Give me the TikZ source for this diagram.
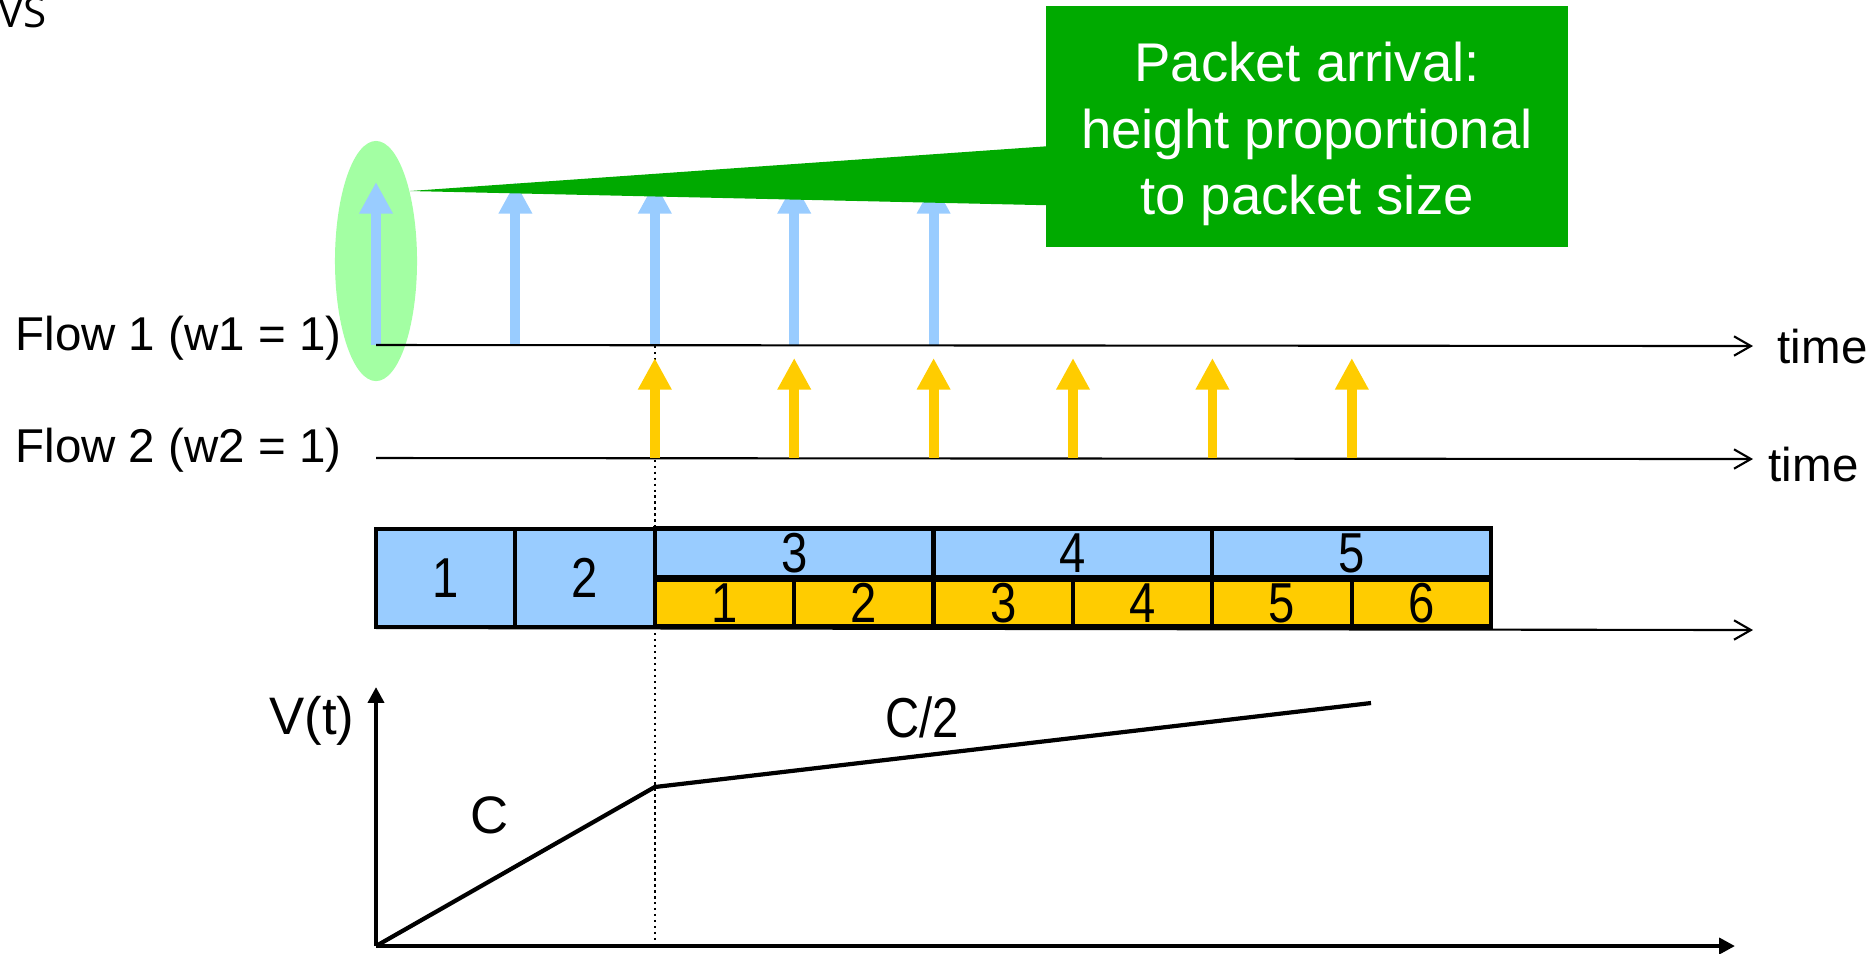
\documentclass[tikz,border=0pt]{standalone}
\usepackage{fontspec}
\setmainfont{Liberation Sans}
\newfontfamily\slidefont{Open Sans}
\newfontfamily\narrowfont[FakeStretch=0.84]{Liberation Sans}
\usepackage{tikz}
\usetikzlibrary{arrows.meta,calc,shapes.geometric}
\definecolor{pktblue}{RGB}{153,204,255}
\definecolor{pktyellow}{RGB}{255,204,0}
\definecolor{notegreen}{RGB}{0,170,0}
\definecolor{halogreen}{RGB}{163,255,163}
\tikzset{
  arrive1/.style={pktblue, line width=2.8pt, -{Triangle[width=9pt,length=9pt]}},
  arrive2/.style={pktyellow, line width=2.8pt, -{Triangle[width=9pt,length=9pt]}},
  timeline/.style={line width=0.6pt, -{Straight Barb[length=4.8pt,width=5.5pt]}},
  slotbox/.style={draw, line width=1.2pt, inner sep=0pt, font=\narrowfont\fontsize{16}{18}\selectfont},
  labtext/.style={inner sep=0pt, font=\fontsize{13.5}{16}\selectfont},
  bigtext/.style={inner sep=0pt, font=\fontsize{15}{18}\selectfont},
  vaxis/.style={line width=1.2pt, -{Triangle[width=4.5pt,length=4.5pt]}}
}

\begin{document}
\begin{tikzpicture}[x=0.01cm, y=-0.01cm]
    \useasboundingbox (0,0) rectangle (1874,953);
    \node[anchor=base west, inner sep=0pt, font=\slidefont\fontsize{12}{14}\selectfont] (hdr) at (-2,27) {VS};

    % arrivals of flow 1
    \node[ellipse, fill=halogreen, inner sep=0pt, minimum width=0.82cm, minimum height=2.4cm] (halo) at (376,261) {};
    \foreach \i in {0,...,4}
        \draw[arrive1] (376+\i*139.4,345) -- ++(0,-163);
    \node[labtext, anchor=base east] (f1) at (342,350) {Flow 1 (w1 = 1)};
    \coordinate (s1) at (376,345);
    \coordinate (e1) at (1753,346);
    \draw[timeline] (s1) -- (e1);
    \node[labtext, anchor=base west] (t1) at (1777,363) {time};

    % arrivals of flow 2
    \draw[densely dotted, line width=0.7pt] (654.8,346) -- (654.8,946);
    \node[labtext, anchor=base east] (f2) at (342,462) {Flow 2 (w2 = 1)};
    \coordinate (s2) at (376,458);
    \coordinate (e2) at (1753,459);
    \draw[timeline] (s2) -- (e2);
    \foreach \i in {2,...,7}
        \draw[arrive2] (376+\i*139.4,458) -- ++(0,-100);
    \node[labtext, anchor=base west] (t2) at (1768,481) {time};

    % callout
    \node[fill=notegreen, minimum width=5.22cm, minimum height=2.41cm] (note) at (1307,126.5) {};
    \node[text=white, align=center, inner sep=0pt, font=\fontsize{15.5}{19}\selectfont] (notetext) at (1307,134)
          {Packet arrival:\\height proportional\\to packet size};
    \coordinate (tip) at (410,191);
    \fill[notegreen] (tip) -- ($(note.north west)+(2,141)$) -- ($(note.north west)+(2,200)$) -- cycle;

    % service order
    \coordinate (s3) at (376,628);
    \coordinate (e3) at (1753,630);
    \draw[timeline] (s3) -- (e3);
    \foreach \n in {1,2}
        \node[slotbox, fill=pktblue, minimum width=1.394cm, minimum height=0.98cm] (a\n) at ({376+\n*139.4-69.7},578) {\n};
    \foreach \n in {3,4,5}
        \node[slotbox, fill=pktblue, minimum width=2.788cm, minimum height=0.49cm] (a\n) at ({654.8+(\n-3)*278.8+139.4},553) {\n};
    \foreach \n in {1,...,6}
        \node[slotbox, fill=pktyellow, minimum width=1.394cm, minimum height=0.47cm] (b\n) at ({654.8+(\n-1)*139.4+69.7},603) {\n};

    % virtual time
    \coordinate (org) at (376,946);
    \coordinate (knee) at (654.8,787);
    \coordinate (vend) at (1371,703);
    \draw[vaxis] (org) -- (376,687);
    \draw[vaxis] (org) -- (1735,946);
    \draw[line width=1.2pt, line join=round] (org) -- (knee) -- (vend);
    \node[bigtext] (vt) at (312,721) {V(t)};
    \node[bigtext] (cfull) at (490,815) {C};
    \node[bigtext, font=\narrowfont\fontsize{16}{18}\selectfont] (chalf) at (922,717) {C/2};
\end{tikzpicture}
\end{document}
